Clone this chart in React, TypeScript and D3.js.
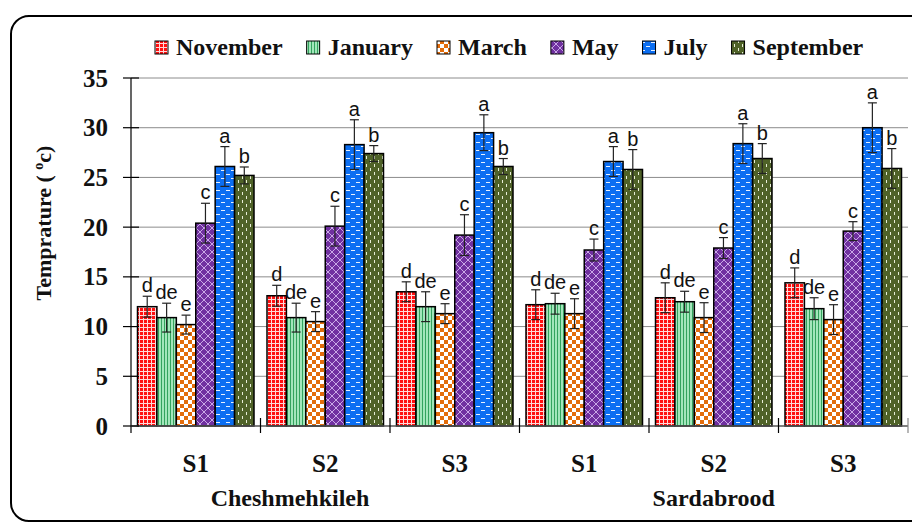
import React, { useEffect, useRef } from "react";
import * as d3 from "d3";

const sites = ["S1", "S2", "S3", "S1", "S2", "S3"];
const locations = ["Cheshmehkileh", "Sardabrood"];
const seriesNames = ["November", "January", "March", "May", "July", "September"];
const letters = ["d", "de", "e", "c", "a", "b"];
const yTicks = [0, 5, 10, 15, 20, 25, 30, 35];

const november = [12.0, 13.1, 13.5, 12.2, 12.9, 14.4];
const january = [10.9, 10.9, 12.0, 12.3, 12.5, 11.8];
const march = [10.2, 10.5, 11.3, 11.3, 10.9, 10.7];
const may = [20.4, 20.1, 19.2, 17.7, 17.9, 19.6];
const july = [26.1, 28.3, 29.5, 26.6, 28.4, 30.0];
const september = [25.2, 27.4, 26.1, 25.8, 26.9, 25.9];

const novErr = [1.05, 1.05, 1.0, 1.5, 1.5, 1.5];
const janErr = [1.45, 1.45, 1.5, 1.05, 1.05, 1.1];
const marErr = [0.95, 1.0, 1.0, 1.5, 1.5, 1.5];
const mayErr = [2.0, 2.0, 2.05, 1.1, 1.05, 0.95];
const julErr = [2.0, 2.5, 1.8, 1.5, 2.0, 2.5];
const sepErr = [0.85, 0.8, 0.8, 2.0, 1.5, 2.0];

const seriesValues = [november, january, march, may, july, september];
const seriesErrors = [novErr, janErr, marErr, mayErr, julErr, sepErr];

const W = 912;
const H = 525;
const serif = "'Liberation Serif', 'Times New Roman', serif";
const sans = "'Liberation Sans', Arial, sans-serif";

export default function App() {
  const ref = useRef<SVGSVGElement | null>(null);

  useEffect(() => {
    const svg = d3.select(ref.current);
    svg.selectAll("*").remove();

    const left = 131, right = 908, top = 78, bottom = 426;
    const x0 = d3.scaleBand<number>().domain(d3.range(sites.length)).range([left, right]).paddingInner(0);
    const bw = x0.bandwidth();
    const x1 = d3.scaleBand<number>().domain(d3.range(seriesNames.length)).range([6.5, bw - 6.5]).padding(0);
    const y = d3.scaleLinear().domain([0, 35]).range([bottom, top]);

    // patterns
    const defs = svg.append("defs");
    const pid = (i: number) => `pat${i}`;
    {
      const p = defs.append("pattern").attr("id", pid(0)).attr("patternUnits", "userSpaceOnUse").attr("width", 4).attr("height", 4);
      p.append("rect").attr("width", 4).attr("height", 4).attr("fill", "#ff1010");
      p.append("rect").attr("x", 3).attr("width", 1).attr("height", 4).attr("fill", "#ffd8d8");
      p.append("rect").attr("y", 3).attr("width", 4).attr("height", 1).attr("fill", "#ffd8d8");
    }
    {
      const p = defs.append("pattern").attr("id", pid(1)).attr("patternUnits", "userSpaceOnUse").attr("width", 3).attr("height", 4);
      p.append("rect").attr("width", 3).attr("height", 4).attr("fill", "#a3e6bb");
      p.append("rect").attr("x", 2).attr("width", 1).attr("height", 4).attr("fill", "#34a35e");
    }
    {
      const p = defs.append("pattern").attr("id", pid(2)).attr("patternUnits", "userSpaceOnUse").attr("width", 8).attr("height", 8);
      p.append("rect").attr("width", 8).attr("height", 8).attr("fill", "#ffffff");
      p.append("rect").attr("width", 4).attr("height", 4).attr("fill", "#e36c0a");
      p.append("rect").attr("x", 4).attr("y", 4).attr("width", 4).attr("height", 4).attr("fill", "#e36c0a");
    }
    {
      const p = defs.append("pattern").attr("id", pid(3)).attr("patternUnits", "userSpaceOnUse").attr("width", 8).attr("height", 8);
      p.append("rect").attr("width", 8).attr("height", 8).attr("fill", "#7030a0");
      p.append("path").attr("d", "M0,0 L8,8 M8,0 L0,8").attr("stroke", "#c9a8e6").attr("stroke-width", 1);
    }
    {
      const p = defs.append("pattern").attr("id", pid(4)).attr("patternUnits", "userSpaceOnUse").attr("width", 10).attr("height", 8);
      p.append("rect").attr("width", 10).attr("height", 8).attr("fill", "#0b6ef2");
      p.append("rect").attr("x", 1).attr("y", 2).attr("width", 4).attr("height", 1).attr("fill", "#e6f0ff");
      p.append("rect").attr("x", 6).attr("y", 6).attr("width", 4).attr("height", 1).attr("fill", "#e6f0ff");
    }
    {
      const p = defs.append("pattern").attr("id", pid(5)).attr("patternUnits", "userSpaceOnUse").attr("width", 8).attr("height", 8);
      p.append("rect").attr("width", 8).attr("height", 8).attr("fill", "#4f6228");
      p.append("rect").attr("x", 2).attr("y", 0).attr("width", 1).attr("height", 3).attr("fill", "#e8eed8");
      p.append("rect").attr("x", 6).attr("y", 4).attr("width", 1).attr("height", 3).attr("fill", "#e8eed8");
    }

    svg.append("rect").attr("width", W).attr("height", H).attr("fill", "#fff");

    // frame
    svg.append("rect").attr("x", 11).attr("y", 16).attr("width", 930).attr("height", 505)
      .attr("rx", 18).attr("fill", "none").attr("stroke", "#000").attr("stroke-width", 2);

    // grid
    svg.append("g").selectAll("line").data(yTicks.filter(t => t > 0)).join("line")
      .attr("x1", left).attr("x2", right).attr("y1", d => y(d)).attr("y2", d => y(d))
      .attr("stroke", "#8c8c8c").attr("stroke-width", 1);

    // bars
    const g = svg.append("g");
    seriesNames.forEach((name, si) => {
      const vals = seriesValues[si];
      const errs = seriesErrors[si];
      vals.forEach((v, ci) => {
        const bx = (x0(ci) as number) + (x1(si) as number);
        const w = x1.bandwidth();
        g.append("rect").attr("x", bx).attr("y", y(v)).attr("width", w).attr("height", y(0) - y(v))
          .attr("fill", `url(#${pid(si)})`).attr("stroke", "#000").attr("stroke-width", 1.5);
        const cx = bx + w / 2;
        const e = errs[ci];
        g.append("line").attr("x1", cx).attr("x2", cx).attr("y1", y(v + e)).attr("y2", y(v - e))
          .attr("stroke", "#222").attr("stroke-width", 1.2);
        [v + e, v - e].forEach(ev => {
          g.append("line").attr("x1", cx - 4.5).attr("x2", cx + 4.5).attr("y1", y(ev)).attr("y2", y(ev))
            .attr("stroke", "#222").attr("stroke-width", 1.2);
        });
        g.append("text").attr("x", cx).attr("y", y(v + e) - 4).attr("text-anchor", "middle")
          .attr("font-family", sans).attr("font-size", 20).attr("fill", "#111").text(letters[si]);
      });
    });

    // axes
    svg.append("line").attr("x1", left).attr("x2", left).attr("y1", top).attr("y2", bottom + 7)
      .attr("stroke", "#000").attr("stroke-width", 1.2);
    svg.append("line").attr("x1", left).attr("x2", right).attr("y1", bottom).attr("y2", bottom)
      .attr("stroke", "#555").attr("stroke-width", 1.5);
    svg.append("g").selectAll("line").data(yTicks).join("line")
      .attr("x1", left - 8).attr("x2", left + 8).attr("y1", d => y(d)).attr("y2", d => y(d))
      .attr("stroke", "#000").attr("stroke-width", 1.2);
    svg.append("g").selectAll("text").data(yTicks).join("text")
      .attr("x", 108).attr("y", d => y(d) + 8.5).attr("text-anchor", "end")
      .attr("font-family", serif).attr("font-weight", "bold").attr("font-size", 25).attr("fill", "#111")
      .text(d => String(d));
    // separators
    svg.append("g").selectAll("line").data(d3.range(1, sites.length + 1)).join("line")
      .attr("x1", d => left + d * bw).attr("x2", d => left + d * bw)
      .attr("y1", bottom - 8).attr("y2", bottom + 7)
      .attr("stroke", (d) => (d === sites.length ? "#888" : "#000")).attr("stroke-width", 1.2);

    // category labels
    svg.append("g").selectAll("text").data(sites).join("text")
      .attr("x", (_d, i) => (x0(i) as number) + bw / 2).attr("y", 472).attr("text-anchor", "middle")
      .attr("font-family", serif).attr("font-weight", "bold").attr("font-size", 25).attr("fill", "#111")
      .text(d => d);
    const locCenters = [290, left + 4.5 * bw];
    svg.append("g").selectAll("text").data(locations).join("text")
      .attr("x", (_d, i) => locCenters[i]).attr("y", 506).attr("text-anchor", "middle")
      .attr("font-family", serif).attr("font-weight", "bold").attr("font-size", 24).attr("fill", "#111")
      .text(d => d);

    // y title
    const yt = svg.append("text").attr("transform", "translate(51,223) rotate(-90)").attr("text-anchor", "middle")
      .attr("font-family", serif).attr("font-weight", "bold").attr("font-size", 22).attr("fill", "#111");
    yt.append("tspan").text("Temprature ( ");
    yt.append("tspan").attr("font-size", 14).attr("dy", -8).text("o");
    yt.append("tspan").attr("dy", 8).text("c)");

    // legend
    const lg = svg.append("g");
    let lx = 155;
    seriesNames.forEach((name, si) => {
      lg.append("rect").attr("x", lx).attr("y", 41).attr("width", 13).attr("height", 13)
        .attr("fill", `url(#${pid(si)})`).attr("stroke", "#000").attr("stroke-width", 1);
      const t = lg.append("text").attr("x", lx + 21).attr("y", 54.5)
        .attr("font-family", serif).attr("font-weight", "bold").attr("font-size", 24).attr("fill", "#111")
        .text(name);
      const tw = (t.node() as SVGTextElement).getComputedTextLength();
      lx = lx + 21 + tw + 24;
    });
  }, []);

  return (
    <svg ref={ref} width={W} height={H} style={{ position: "absolute", left: 0, top: 0, display: "block" }} />
  );
}
